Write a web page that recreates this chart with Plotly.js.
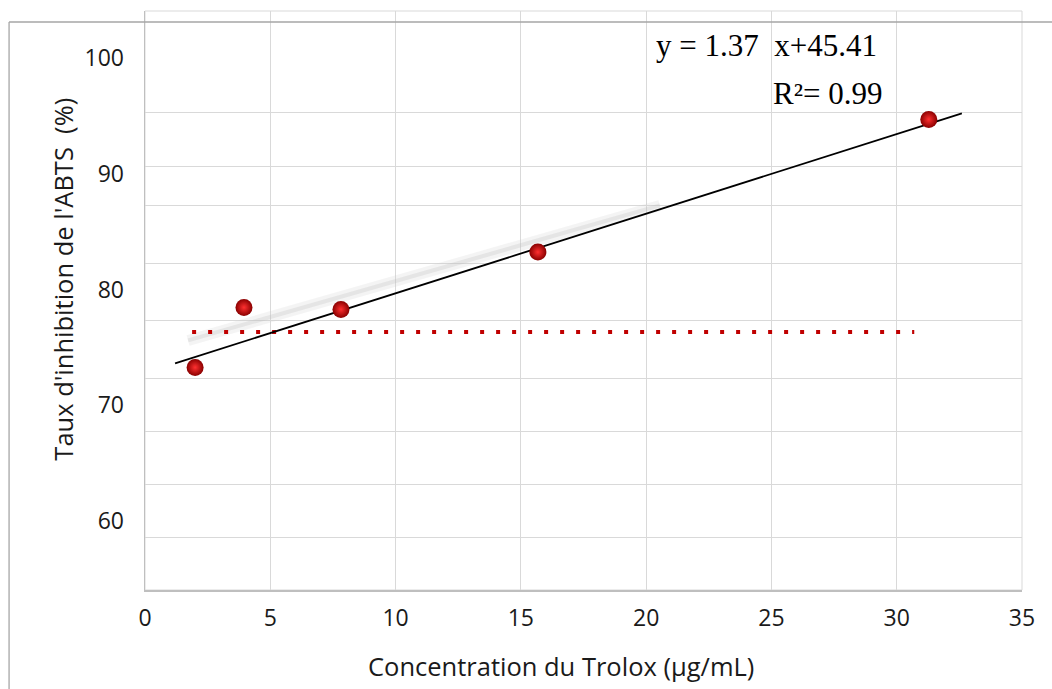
<!DOCTYPE html>
<html>
<head>
<meta charset="utf-8">
<script src="https://cdn.plot.ly/plotly-3.0.1.min.js"></script>
<style>
  html, body { margin: 0; padding: 0; background: #ffffff; }
  #chart { width: 1052px; height: 689px; }
</style>
</head>
<body>
<div id="chart"></div>
<script>
// ---- data ----
const concentration = [2.0, 3.95, 7.82, 15.68, 31.28];      // µg/mL
const inhibition    = [73.27, 78.45, 78.28, 83.23, 94.69];  // %

const trendX  = [1.2, 32.6];
const trendY  = [73.62, 95.21];
const shadowX = [1.72, 20.55];
const shadowY = [75.6, 87.26];
const refX    = [1.88, 30.7];
const refY    = [76.32, 76.32];

const xTickVals = [0, 5, 10, 15, 20, 25, 30, 35];
const yTickVals = [60, 70, 80, 90, 100];
const yGridVals = [58.59, 63.17, 67.75, 72.32, 77.33, 82.25, 87.25, 90.63, 95.25];

const equationText = "y = 1.37\u00a0 x+45.41";
const r2Text = "R\u00b2= 0.99";
const xTitle = "Concentration du Trolox (\u00b5g/mL)";
const yTitle = "Taux d'inhibition de l'ABTS \u00a0(%)";

const yRange = [54.05, 104.05];
const tickFont = { family: "Open Sans, sans-serif", size: 23, color: "#1a1a1a" };
const titleFont = { family: "Open Sans, sans-serif", size: 25.5, color: "#1a1a1a" };
const eqFont = { family: "Liberation Serif, Times New Roman, serif", size: 31, color: "#000000" };

const traces = [
  { x: shadowX, y: shadowY, type: "scatter", mode: "lines", yaxis: "y",
    line: { color: "rgba(205,205,205,0.22)", width: 11 }, hoverinfo: "skip", showlegend: false },
  { x: shadowX, y: shadowY, type: "scatter", mode: "lines", yaxis: "y",
    line: { color: "rgba(190,190,190,0.28)", width: 4 }, hoverinfo: "skip", showlegend: false },
  { x: refX, y: refY, type: "scatter", mode: "lines", yaxis: "y2",
    line: { color: "#c00000", width: 4, dash: "4px,12px" }, hoverinfo: "skip", showlegend: false },
  { x: trendX, y: trendY, type: "scatter", mode: "lines", yaxis: "y2",
    line: { color: "#000000", width: 1.8 }, hoverinfo: "skip", showlegend: false },
  { x: concentration, y: inhibition, type: "scatter", mode: "markers", yaxis: "y2",
    marker: { size: 17, color: "#8a0000",
              gradient: { type: "radial", color: "#ff3030" },
              line: { width: 0 } },
    showlegend: false }
];

const layout = {
  width: 1052, height: 689,
  margin: { l: 145, r: 30, t: 11, b: 99 },
  paper_bgcolor: "#ffffff", plot_bgcolor: "#ffffff",
  showlegend: false,
  xaxis: {
    range: [0, 35], tickvals: xTickVals, ticktext: xTickVals.map(String),
    showgrid: true, gridcolor: "#d9d9d9", gridwidth: 1,
    zeroline: false, showline: true, linecolor: "#bfbfbf", linewidth: 1.5,
    ticks: "", tickfont: tickFont, ticklabelstandoff: 7, fixedrange: true
  },
  yaxis: {
    range: yRange, tickvals: yGridVals, showticklabels: false,
    showgrid: true, gridcolor: "#d9d9d9", gridwidth: 1,
    zeroline: false, showline: true, linecolor: "#bfbfbf", linewidth: 1.5,
    ticks: "", fixedrange: true
  },
  yaxis2: {
    range: yRange, overlaying: "y", side: "left", anchor: "x",
    tickvals: yTickVals, ticktext: yTickVals.map(String),
    showgrid: false, zeroline: false, showline: false,
    ticks: "", tickfont: tickFont, ticklabelstandoff: 20, fixedrange: true
  },
  shapes: [
    { type: "rect", xref: "paper", yref: "paper", x0: 0, x1: 1, y0: 0, y1: 1,
      line: { color: "#d9d9d9", width: 1 }, layer: "below" },
    { type: "line", xref: "paper", yref: "paper", x0: -0.155, x1: 1.04, y0: 0.981, y1: 0.981,
      line: { color: "#a6a6a6", width: 1.3 } },
    { type: "line", xref: "paper", yref: "paper", x0: -0.155, x1: -0.155, y0: 0.981, y1: -0.2,
      line: { color: "#a6a6a6", width: 1.3 } }
  ],
  annotations: [
    { text: equationText, xref: "paper", yref: "paper", x: 0.5805, y: 0.9396,
      xanchor: "left", yanchor: "middle", showarrow: false, font: eqFont },
    { text: r2Text, xref: "paper", yref: "paper", x: 0.714, y: 0.8567,
      xanchor: "left", yanchor: "middle", showarrow: false, font: eqFont },
    { text: xTitle, xref: "paper", yref: "paper", x: 0.474, y: -0.131,
      xanchor: "center", yanchor: "middle", showarrow: false, font: titleFont },
    { text: yTitle, xref: "paper", yref: "paper", x: -0.0935, y: 0.536,
      xanchor: "center", yanchor: "middle", textangle: -90, showarrow: false, font: titleFont }
  ]
};

Plotly.newPlot("chart", traces, layout, { displayModeBar: false, staticPlot: true });
</script>
</body>
</html>
